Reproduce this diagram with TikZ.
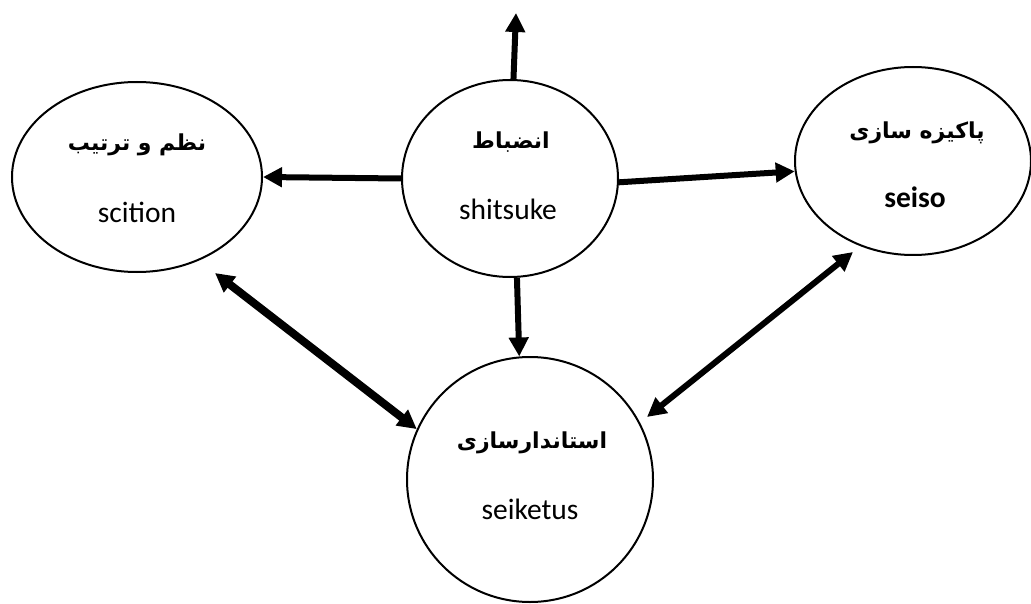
\documentclass[tikz,border=0pt]{standalone}
\usepackage{fontspec}
\setmainfont{Carlito}
\newfontfamily\fa[Script=Arabic]{DejaVu Sans}
\TeXXeTstate=1
\usetikzlibrary{shapes.geometric,arrows.meta}
\tikzset{
  bubble/.style={ellipse, draw, line width=2pt, inner sep=0pt},
  fatxt/.style={font=\fa\bfseries\fontsize{22}{26}\selectfont, inner sep=0pt},
  latxt/.style={font=\fontsize{29.5}{34}\selectfont, inner sep=0pt},
  link/.style={line width=6pt, -{Triangle[length=19pt,width=19pt]}},
  duallink/.style={line width=6pt, {Triangle[length=19pt,width=19pt]}-{Triangle[length=19pt,width=19pt]}}
}
\begin{document}
\begin{tikzpicture}[x=1pt,y=-1pt]
  \useasboundingbox (0,0) rectangle (1031,604);

  % the four stages
  \node[bubble, minimum width=250pt, minimum height=190pt] (scit) at (137,177) {};
  \node[bubble, minimum width=216pt, minimum height=197pt] (shit) at (510,178.5) {};
  \node[bubble, minimum width=236pt, minimum height=188pt] (seiso) at (913,161) {};
  \node[bubble, minimum width=246pt, minimum height=245pt] (std) at (530,479.5) {};

  % labels
  \node[fatxt] (scitfa) at (137,145) {\beginR نظم و ترتیب\endR};
  \node[latxt] (scitla) at (137,212) {scition};
  \node[fatxt] (shitfa) at (511,142) {\beginR انضباط\endR};
  \node[latxt] (shitla) at (508,209) {shitsuke};
  \node[fatxt] (seisofa) at (917,133) {\beginR پاکیزه سازی\endR};
  \node[latxt, font=\bfseries\fontsize{29.5}{34}\selectfont] (seisola) at (915,197) {seiso};
  \node[fatxt] (stdfa) at (532,443) {\beginR استاندارسازی\endR};
  \node[latxt] (stdla) at (530,509) {seiketus};

  % free arrow ends
  \coordinate (up) at (516,13);
  \coordinate (lt) at (215,273);
  \coordinate (rt) at (853,252);
  \coordinate (rb) at (647,417);

  % connectors
  \draw[link] (shit.88) -- (up);
  \draw[link] (shit.west) -- (scit.east);
  \draw[link] (shit.-2) -- (seiso.185.7);
  \draw[link] (shit.-86.6) -- (std.95);
  \draw[duallink, line width=8pt] (lt) -- (std.156.8);
  \draw[duallink] (rt) -- (rb);
\end{tikzpicture}
\end{document}
